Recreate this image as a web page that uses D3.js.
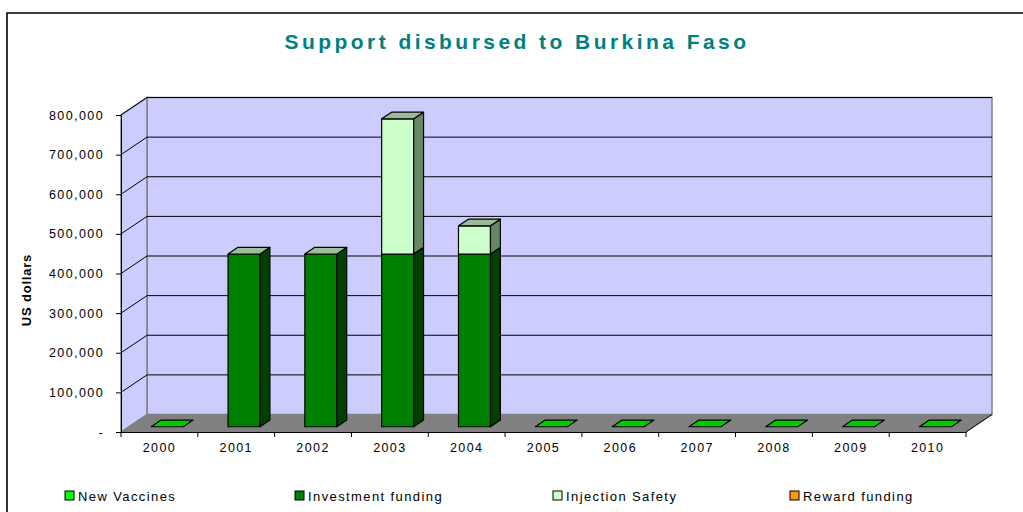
<!DOCTYPE html>
<html><head><meta charset="utf-8">
<script src="https://cdn.jsdelivr.net/npm/d3@7"></script>
<style>body{margin:0;background:#fff}svg{display:block}text{font-family:Arial,"Liberation Sans",sans-serif}</style>
</head><body>
<svg id="c" width="1023" height="512"></svg>
<script>
const categories = ["2000","2001","2002","2003","2004","2005","2006","2007","2008","2009","2010"];
const seriesNames = ["New Vaccines","Investment funding","Injection Safety","Reward funding"];
const newVaccines = [0,0,0,0,0,0,0,0,0,0,0];
const investmentFunding = [0,436000,436000,436000,436000,0,0,0,0,0,0];
const injectionSafety = [0,0,0,341000,71000,0,0,0,0,0,0];
const rewardFunding = [0,0,0,0,0,0,0,0,0,0,0];
const yTicks = [0,100000,200000,300000,400000,500000,600000,700000,800000];
const yTickLabels = ["-","100,000","200,000","300,000","400,000","500,000","600,000","700,000","800,000"];

const colors = {
  front:["#00CC00","#008000","#CCFFCC","#FF9900"],
  side:["#007A00","#004000","#668866","#995C00"],
  top:["#00CC00","#99C299","#99BB99","#FFB84D"],
  legend:["#00FF00","#008000","#CCFFCC","#FF9900"]
};
const values = [newVaccines, investmentFunding, injectionSafety, rewardFunding];

const svg = d3.select("#c");
const L = 121, R = 966, Y0 = 432, Y800 = 115;
const DX = 26, DY = -17.5;
const x = d3.scaleBand().domain(categories).range([L, R]).paddingInner(0).paddingOuter(0);
const y = d3.scaleLinear().domain([0, 800000]).range([Y0, Y800]);

// border
svg.append("path").attr("d","M7,520 L7,13 L1030,13").attr("fill","none").attr("stroke","#000").attr("stroke-width",1.6);

// title
svg.append("text").attr("x",517).attr("y",49).attr("text-anchor","middle")
  .attr("font-size",21).attr("font-weight","bold").attr("fill","#008080")
  .attr("letter-spacing","3.45px").text("Support disbursed to Burkina Faso");

const pt = (px,py)=>px+","+py;
// back wall
svg.append("polygon").attr("points",[pt(L+DX,Y0+DY),pt(R+DX,Y0+DY),pt(R+DX,Y800+DY),pt(L+DX,Y800+DY)].join(" "))
  .attr("fill","#CCCCFF").attr("stroke","#808080").attr("stroke-width",1.5);
// left wall
svg.append("polygon").attr("points",[pt(L,Y0),pt(L+DX,Y0+DY),pt(L+DX,Y800+DY),pt(L,Y800)].join(" "))
  .attr("fill","#CCCCFF").attr("stroke","#808080").attr("stroke-width",1.5);
// gridlines
yTicks.forEach(t=>{
  if(t===0) return;
  const yy=y(t);
  svg.append("path").attr("d",`M${L},${yy} L${L+DX},${yy+DY} L${R+DX},${yy+DY}`)
    .attr("fill","none").attr("stroke","#000").attr("stroke-width",1);
});
// floor
svg.append("polygon").attr("points",[pt(L,Y0),pt(R,Y0),pt(R+DX,Y0+DY),pt(L+DX,Y0+DY)].join(" "))
  .attr("fill","#808080").attr("stroke","#808080").attr("stroke-width",1);
svg.append("line").attr("x1",R).attr("y1",Y0).attr("x2",R+DX).attr("y2",Y0+DY).attr("stroke","#000").attr("stroke-width",1);

// bars
const f0=0.3, f1=0.68, barW=32;
categories.forEach((c,i)=>{
  const total = values.reduce((s,v)=>s+v[i],0);
  const bx = x(c) + (x.bandwidth()-barW)/2 + f0*DX;
  const byOff = f0*DY;
  const ddx=(f1-f0)*DX, ddy=(f1-f0)*DY;
  let base=0;
  values.forEach((v,si)=>{
    const val=v[i];
    if(val===0 && !(total===0 && si===0)) return;
    const yb=y(base)+byOff, yt=y(base+val)+byOff;
    const g=svg.append("g").attr("stroke","#000").attr("stroke-width",1.2).attr("stroke-linejoin","round");
    if(val>0){
      g.append("polygon").attr("points",[pt(bx,yb),pt(bx+barW,yb),pt(bx+barW,yt),pt(bx,yt)].join(" ")).attr("fill",colors.front[si]);
      g.append("polygon").attr("points",[pt(bx+barW,yb),pt(bx+barW+ddx,yb+ddy),pt(bx+barW+ddx,yt+ddy),pt(bx+barW,yt)].join(" ")).attr("fill",colors.side[si]);
    }
    g.append("polygon").attr("points",[pt(bx,yt),pt(bx+barW,yt),pt(bx+barW+ddx,yt+ddy),pt(bx+ddx,yt+ddy)].join(" ")).attr("fill",colors.top[si]);
    base+=val;
  });
});

// axes
const yAxis = d3.axisLeft(y).tickValues(yTicks).tickSize(5).tickSizeOuter(0).tickPadding(12)
  .tickFormat((d,i)=>yTickLabels[i]);
const ga = svg.append("g").attr("transform",`translate(${L},0)`).call(yAxis);
ga.select(".domain").attr("stroke","#000");
ga.selectAll("text").attr("font-size",12.5).attr("letter-spacing","1.4px").attr("fill","#000").attr("font-family","Arial,'Liberation Sans',sans-serif");

const xAxis = d3.axisBottom(x).tickSize(0).tickPadding(11);
const gx = svg.append("g").attr("transform",`translate(0,${Y0})`).call(xAxis);
gx.select(".domain").attr("stroke","#000");
gx.selectAll("text").attr("font-size",12.5).attr("letter-spacing","1.4px").attr("fill","#000").attr("font-family","Arial,'Liberation Sans',sans-serif");
// category boundary ticks
d3.range(categories.length+1).forEach(k=>{
  const xx = k<categories.length ? x(categories[k]) : R;
  svg.append("line").attr("x1",xx).attr("x2",xx).attr("y1",Y0).attr("y2",Y0+5).attr("stroke","#000");
});

// y label
svg.append("text").attr("transform","translate(31,290) rotate(-90)").attr("text-anchor","middle")
  .attr("font-size",13).attr("font-weight","bold").attr("letter-spacing","0.8px").text("US dollars");

// legend
const legX=[65,295,553,790];
seriesNames.forEach((n,i)=>{
  svg.append("rect").attr("x",legX[i]).attr("y",491).attr("width",9).attr("height",9)
    .attr("fill",colors.legend[i]).attr("stroke","#000").attr("stroke-width",1);
  svg.append("text").attr("x",legX[i]+13).attr("y",500.5).attr("font-size",13).attr("letter-spacing","1.4px").text(n);
});
</script>
</body></html>
